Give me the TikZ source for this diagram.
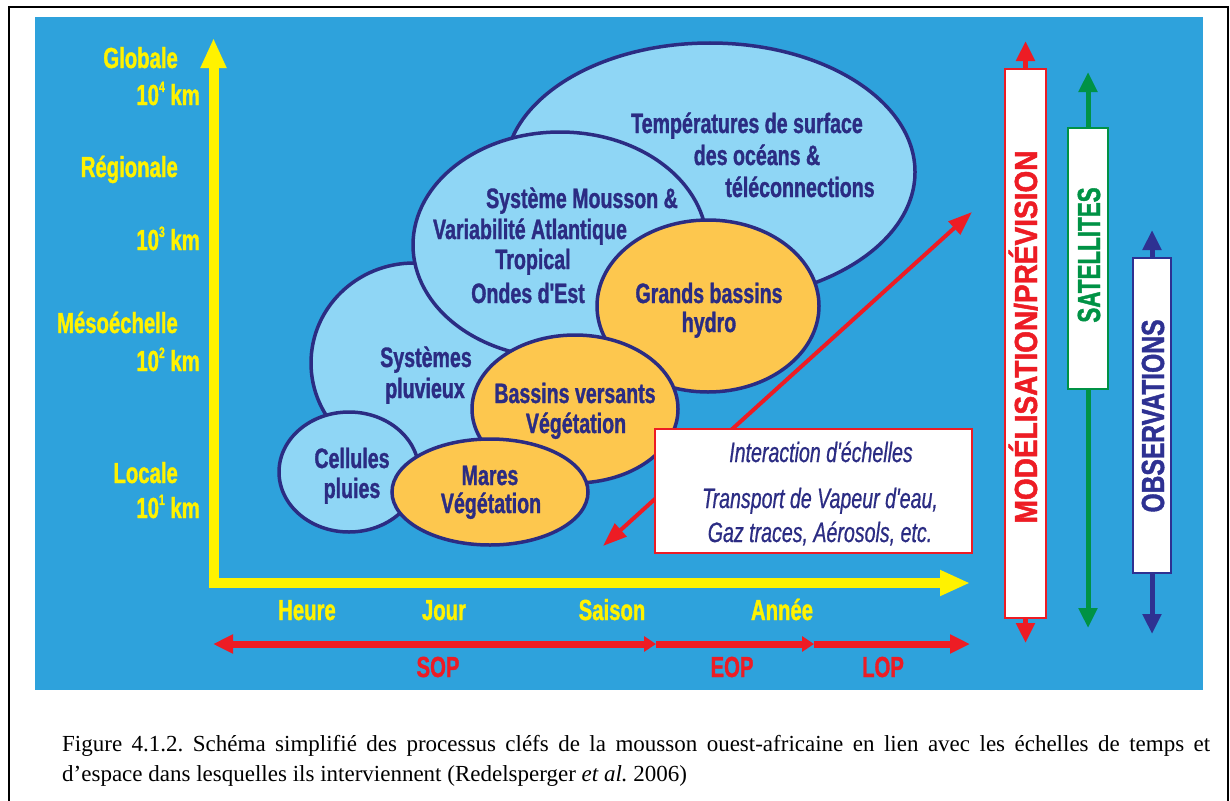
\documentclass[tikz,border=0pt]{standalone}
\usepackage{fontspec}
\setmainfont{Liberation Serif}
\newfontfamily\cf[FakeStretch=0.70, BoldFeatures={FakeBold=1.2}, ItalicFeatures={FakeBold=0.6}]{Liberation Sans}
\usetikzlibrary{arrows.meta,shapes.geometric}
\definecolor{bgblue}{RGB}{46,162,220}
\definecolor{lblue}{RGB}{143,214,245}
\definecolor{orng}{RGB}{253,199,78}
\definecolor{navy}{RGB}{43,44,131}
\definecolor{axyellow}{RGB}{255,242,0}
\definecolor{ared}{RGB}{237,28,36}
\definecolor{agreen}{RGB}{0,146,69}
\definecolor{obsnavy}{RGB}{46,49,146}
\newcommand\sps[1]{\raisebox{0.45em}{\fontsize{15}{15}\selectfont #1}}
\begin{document}
\begin{tikzpicture}[x=1pt,y=-1pt,
  axlab/.style={text=axyellow, font=\cf\bfseries\fontsize{29}{30}\selectfont, inner sep=0},
  redlab/.style={text=ared, font=\cf\bfseries\fontsize{29}{30}\selectfont, inner sep=0, anchor=base},
  ell/.style={ellipse, draw=navy, line width=3.5pt, inner sep=0},
  etext/.style={text=navy, font=\cf\bfseries\fontsize{28}{30}\selectfont, inner sep=0, anchor=base},
  btext/.style={text=navy, font=\cf\itshape\fontsize{28}{30}\selectfont, inner sep=0, anchor=base},
  vlab/.style={font=\cf\bfseries\fontsize{32}{34}\selectfont, inner sep=0, anchor=base, rotate=90},
  bar/.style={fill=white, line width=2.5pt, inner sep=0},
  vline/.style={line width=5pt, {Triangle[length=20pt,width=18pt]}-{Triangle[length=20pt,width=18pt]}},
  captext/.style={font=\frenchspacing\fontsize{23}{26}\selectfont, inner sep=0, anchor=base west}
]
\useasboundingbox (0,0) rectangle (1230,800);
% frame
\draw[line width=1.5pt] (9,802) -- (9,7) -- (1228,7) -- (1228,802);
% blue background
\fill[bgblue] (35,17) rectangle (1203,690);

% axes
\coordinate (ytip) at (213.5,38);
\coordinate (corner) at (213.5,583);
\coordinate (xtip) at (970,583);
\draw[axyellow, line width=10pt, line join=miter,
  {Triangle[length=30pt,width=24pt]}-{Triangle[length=30pt,width=24pt]}]
  (ytip) -- (corner) -- (xtip);

% y-axis labels
\node[axlab, anchor=base east] (lglob) at (178,68) {Globale};
\node[axlab, anchor=base east] (l104) at (200,105) {10\sps{4} km};
\node[axlab, anchor=base east] (lreg) at (178,177) {Régionale};
\node[axlab, anchor=base east] (l103) at (200,250) {10\sps{3} km};
\node[axlab, anchor=base east] (lmeso) at (178,333) {Mésoéchelle};
\node[axlab, anchor=base east] (l102) at (200,371) {10\sps{2} km};
\node[axlab, anchor=base east] (lloc) at (178,483) {Locale};
\node[axlab, anchor=base east] (l101) at (200,518) {10\sps{1} km};

% x-axis labels
\node[axlab, anchor=base] (theure) at (307,620) {Heure};
\node[axlab, anchor=base] (tjour) at (444,620) {Jour};
\node[axlab, anchor=base] (tsaison) at (612,620) {Saison};
\node[axlab, anchor=base] (tannee) at (782,620) {Année};

% red program arrows
\coordinate (sopL) at (213,644);
\coordinate (sopR) at (656,644);
\coordinate (eopR) at (814,644);
\coordinate (lopR) at (970,644);
\draw[ared, line width=7pt, {Triangle[length=20pt,width=18pt]}-{Triangle[length=12pt,width=15pt]}] (sopL) -- (sopR);
\draw[ared, line width=7pt, -{Triangle[length=12pt,width=15pt]}] (sopR) -- (eopR);
\draw[ared, line width=7pt, -{Triangle[length=20pt,width=18pt]}] (eopR) -- (lopR);
\node[redlab] (sop) at (438,677) {SOP};
\node[redlab] (eop) at (732,677) {EOP};
\node[redlab] (lop) at (883,677) {LOP};

% ellipses
\node[ell, fill=lblue, minimum width=410pt, minimum height=258pt] (etemp) at (710,172) {};
\node[ell, fill=lblue, minimum width=206pt, minimum height=200pt] (eplu) at (414,363) {};
\node[ell, fill=lblue, minimum width=294pt, minimum height=226pt] (emous) at (560,245) {};
\node[ell, fill=orng, minimum width=222pt, minimum height=172pt] (egb) at (708,306) {};
\node[ell, fill=orng, minimum width=206pt, minimum height=148pt] (ebv) at (575,409) {};
\node[ell, fill=lblue, minimum width=140pt, minimum height=120pt] (ecel) at (349,472) {};
\node[ell, fill=orng, minimum width=196pt, minimum height=106pt] (emar) at (490,492) {};

% ellipse texts
\node[etext] (t1) at (747,133) {Températures de surface};
\node[etext] (t2) at (757,165) {des océans \&};
\node[etext] (t3) at (800,197) {téléconnections};
\node[etext] (m1) at (582,208) {Système Mousson \&};
\node[etext] (m2) at (530,239) {Variabilité Atlantique};
\node[etext] (m3) at (533,269) {Tropical};
\node[etext] (m4) at (528,303) {Ondes d'Est};
\node[etext] (g1) at (709,303) {Grands bassins};
\node[etext] (g2) at (709,332) {hydro};
\node[etext] (p1) at (426,367) {Systèmes};
\node[etext] (p2) at (425,398) {pluvieux};
\node[etext] (b1) at (575,403) {Bassins versants};
\node[etext] (b2) at (576,433) {Végétation};
\node[etext] (c1) at (352,468) {Cellules};
\node[etext] (c2) at (352,498) {pluies};
\node[etext] (r1) at (490,485) {Mares};
\node[etext] (r2) at (491,513) {Végétation};

% diagonal interaction arrow
\coordinate (dA) at (603,546);
\coordinate (dB) at (972,212);
\draw[ared, line width=4pt, {Triangle[length=24pt,width=17pt]}-{Triangle[length=24pt,width=17pt]}] (dA) -- (dB);

% interaction box
\node[draw=ared, line width=2pt, fill=white, minimum width=317pt, minimum height=124pt, inner sep=0] (ibox) at (813.5,491) {};
\node[btext] (i1) at (821,462) {Interaction d'échelles};
\node[btext] (i2) at (820,508) {Transport de Vapeur d'eau,};
\node[btext] (i3) at (820,542) {Gaz traces, Aérosols, etc.};

% right bars
\coordinate (rT) at (1025.5,41);
\coordinate (rB) at (1025.5,643);
\coordinate (gT) at (1088,72);
\coordinate (gB) at (1088,628);
\coordinate (nT) at (1152,230);
\coordinate (nB) at (1152,634);
\draw[ared, vline] (rB) -- (rT);
\draw[agreen, vline] (gB) -- (gT);
\draw[obsnavy, vline] (nB) -- (nT);
\node[bar, draw=ared, minimum width=41pt, minimum height=549pt] (rbar) at (1025.5,343.5) {};
\node[bar, draw=agreen, minimum width=40pt, minimum height=261pt] (gbar) at (1088,258.5) {};
\node[bar, draw=obsnavy, minimum width=38pt, minimum height=315pt] (nbar) at (1152,415.5) {};
\node[vlab, text=ared] (rlab) at (1037,337) {\scalebox{1.25}[1]{MODÉLISATION/PRÉVISION}};
\node[vlab, text=agreen] (glab) at (1100,255) {SATELLITES};
\node[vlab, text=obsnavy] (nlab) at (1164,416) {\scalebox{1.1}[1]{OBSERVATIONS}};

% caption
\node[captext] (cap1) at (62,751) {\makebox[1148pt][s]{Figure 4.1.2. Schéma simplifié des processus cléfs de la mousson ouest-africaine en lien avec les échelles de temps et}};
\node[captext] (cap2) at (62,781) {d’espace dans lesquelles ils interviennent (Redelsperger \textit{et al.} 2006)};
\end{tikzpicture}
\end{document}
